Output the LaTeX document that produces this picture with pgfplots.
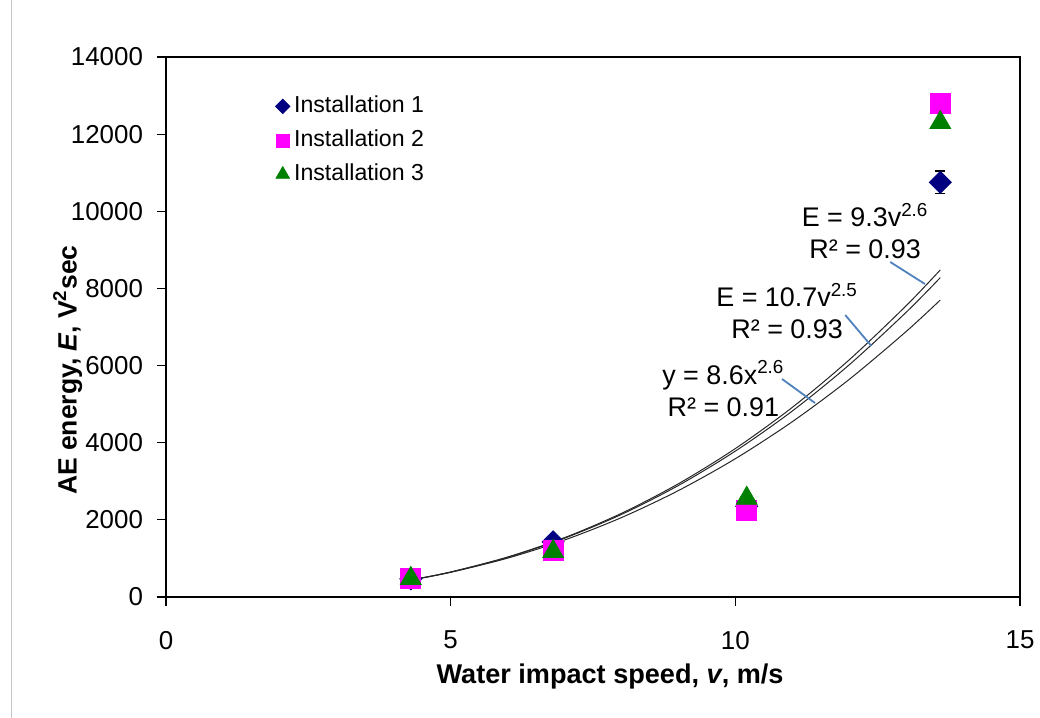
\documentclass[border=0pt]{standalone}
\usepackage{pgfplots}
\pgfplotsset{compat=1.18}
\usepackage{fontspec}
\setmainfont{Liberation Sans}
\definecolor{inst1}{HTML}{000080}
\definecolor{inst2}{HTML}{FF00FF}
\definecolor{inst3}{HTML}{008000}
\definecolor{leader}{HTML}{4F81BD}
\begin{document}
\begin{tikzpicture}
\begin{axis}[
  at={(0,0)}, anchor=south west,
  scale only axis, width=427bp, height=270bp,
  xmin=0, xmax=15, ymin=0, ymax=14000,
  xtick={0,5,10,15}, ytick={0,2000,...,14000},
  scaled ticks=false,
  /pgf/number format/set thousands separator={},
  /pgf/number format/assume math mode=true,
  tick align=outside, major tick length=4.5bp,
  xtick pos=bottom, ytick pos=left,
  axis line style={line width=1bp},
  tick style={line width=0.6bp, black},
  xticklabel style={font=\fontsize{13}{14}\selectfont, yshift=-9bp},
  yticklabel style={font=\fontsize{13}{14}\selectfont, xshift=-3.5bp},
  xlabel={Water impact speed, \textit{v}, m/s},
  ylabel={AE energy, \textit{E}, V\textsuperscript{2}sec},
  every axis x label/.style={at={(axis description cs:0.52,-0.148)}, anchor=center, font=\fontsize{13.6}{15}\selectfont\bfseries},
  every axis y label/.style={at={(axis description cs:-0.115,0.42)}, anchor=center, rotate=90, font=\fontsize{13.3}{15}\selectfont\bfseries},
  legend style={draw=none, fill=none, at={(axis description cs:0.1276,0.9296)}, anchor=north west,
    inner sep=0pt, font=\fontsize{11.6}{14}\selectfont, row sep=6bp,
    nodes={inner sep=0pt, text height=8.5bp, text depth=2.5bp, anchor=west},
    /tikz/every odd column/.append style={column sep=2bp}},
  legend cell align=left,
  legend image code/.code={\path (-3.5bp,0pt) (3.5bp,0pt); \draw[#1, /tikz/every mark/.append style={scale=0.65}] plot coordinates {(0pt,0pt)};},
]
% Installation 1
\addplot[only marks, mark=square*, mark size=3.9bp, mark options={rotate=45, fill=inst1, draw=inst1},
  error bars/.cd, y dir=both, y explicit, error bar style={black, line width=0.8bp},
  error mark options={rotate=90, mark size=2.5bp, line width=0.8bp, black}]
  table[x=x, y=y, y error=e] {
  x y e
  4.3 470 0
  6.8 1430 0
  10.2 2350 0
  13.6 10750 290
};
\addlegendentry{Installation 1}
% Installation 2
\addplot[only marks, mark=square*, mark size=5bp, mark options={fill=inst2, draw=inst2}]
  coordinates {(4.3,470) (6.8,1220) (10.2,2250) (13.6,12800)};
\addlegendentry{Installation 2}
% Installation 3
\addplot[only marks, mark=triangle*, mark size=6bp, mark options={fill=inst3, draw=inst3}]
  coordinates {(4.3,480) (6.8,1180) (10.2,2560) (13.6,12300)};
\addlegendentry{Installation 3}
% trend lines
\addplot[black!85, line width=0.5bp, smooth, forget plot] coordinates {
(4.3,440) (5,648) (6,1036) (7,1539) (8,2169) (9,2936) (10,3848) (11,4916) (12,6148) (13,7551) (13.6,8480)};
\addplot[black!85, line width=0.5bp, smooth, forget plot] coordinates {
(4.3,440) (5,646) (6,1028) (7,1524) (8,2141) (9,2891) (10,3782) (11,4821) (12,6019) (13,7381) (13.6,8280)};
\addplot[black!85, line width=0.5bp, smooth, forget plot] coordinates {
(4.3,440) (5,640) (6,1007) (7,1477) (8,2059) (9,2759) (10,3585) (11,4544) (12,5641) (13,6883) (13.6,7700)};
% leader lines
\addplot[leader, line width=0.9bp, forget plot] coordinates {(12.72,8686) (13.33,8115)};
\addplot[leader, line width=0.9bp, forget plot] coordinates {(11.93,7311) (12.39,6508)};
\addplot[leader, line width=0.9bp, forget plot] coordinates {(10.82,5652) (11.40,5030)};
% labels
\node[font=\fontsize{13.5}{16}\selectfont, align=center] at (axis cs:12.28,9489) {E = 9.3v\textsuperscript{2.6}\\R² = 0.93};
\node[font=\fontsize{13.5}{16}\selectfont, align=center] at (axis cs:10.91,7415) {E = 10.7v\textsuperscript{2.5}\\R² = 0.93};
\node[font=\fontsize{13.5}{16}\selectfont, align=center] at (axis cs:9.79,5406) {y = 8.6x\textsuperscript{2.6}\\R² = 0.91};
\end{axis}
\draw[gray!45, line width=0.7bp] (-77.25bp,-60.5bp) -- (-77.25bp,298.5bp);
\pgfresetboundingbox
\useasboundingbox (-83bp,-60.5bp) rectangle (437bp,298.5bp);
\end{tikzpicture}
\end{document}
